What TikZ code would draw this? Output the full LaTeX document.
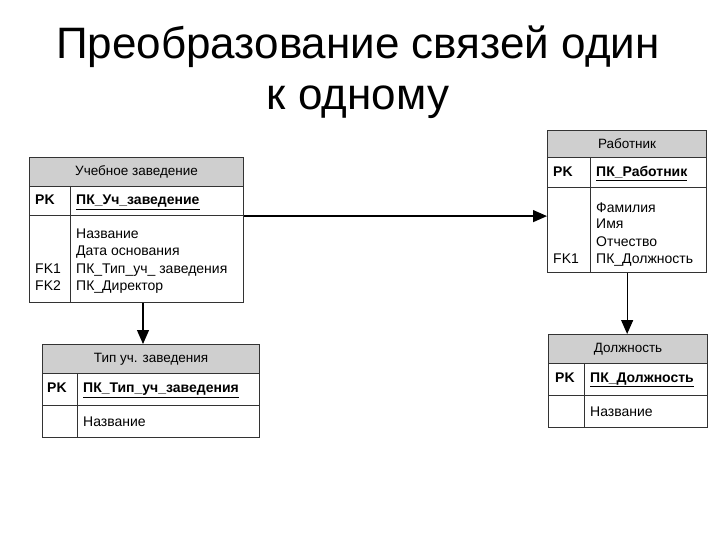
\documentclass[tikz,border=0pt]{standalone}
\usepackage{fontspec}
\setmainfont{Liberation Sans}
\usetikzlibrary{arrows.meta}
\definecolor{hdrgray}{HTML}{CFCFCF}
\definecolor{linegray}{HTML}{333333}
\tikzset{
  tbl/.style={draw=linegray, line width=1.3pt, anchor=north west, inner sep=0pt},
  hdr/.style={draw=linegray, line width=1.1pt, fill=hdrgray, anchor=north west, inner sep=0pt, font=\fontsize{13.5}{15}\selectfont},
  row/.style={draw=linegray, line width=1.1pt, anchor=north west, inner sep=0pt},
  txt/.style={anchor=base west, inner sep=0pt, font=\fontsize{14}{16}\selectfont},
  pk/.style={txt, font=\fontsize{14}{16}\selectfont\bfseries},
  divider/.style={draw=linegray, line width=1pt},
  rel/.style={draw=black, line width=1.2pt, -{Triangle[length=14pt,width=12pt]}},
  title/.style={font=\fontsize{44}{52}\selectfont, align=center, inner sep=0pt, anchor=base}
}
\begin{document}
\begin{tikzpicture}[x=1pt,y=-1pt]
\useasboundingbox (0,0) rectangle (720,540);
% title
\node[title] (t1) at (358,59) {Преобразование связей один};
\node[title] (t2) at (358,110) {к одному};

% ---- Учебное заведение
\node[tbl, minimum width=214pt, minimum height=145pt] (uz) at (29,157) {};
\node[hdr, minimum width=214pt, minimum height=29pt] (uzh) at (29,157) {Учебное заведение};
\node[row, minimum width=214pt, minimum height=29pt] (uzpk) at (29,186) {};
\draw[divider] (70,186) -- (70,302);
\node[pk] (uzpkl) at (35,205) {PK};
\node[pk] (uzpkn) at (76,205) {\underline{ПК\_Уч\_заведение}};
\node[txt] (uza1) at (76,238) {Название};
\node[txt] (uza2) at (76,255.5) {Дата основания};
\node[txt] (uza3) at (76,273) {ПК\_Тип\_уч\_ заведения};
\node[txt] (uza4) at (76,290.5) {ПК\_Директор};
\node[txt] (uzf1) at (35,273) {FK1};
\node[txt] (uzf2) at (35,290.5) {FK2};

% ---- Тип уч. заведения
\node[tbl, minimum width=217pt, minimum height=93pt] (tip) at (42,344) {};
\node[hdr, minimum width=217pt, minimum height=29pt] (tiph) at (42,344) {Тип уч. заведения};
\node[row, minimum width=217pt, minimum height=32pt] (tippk) at (42,373) {};
\draw[divider] (77,373) -- (77,437);
\node[pk] (tippkl) at (47,392.5) {PK};
\node[pk] (tippkn) at (83,392.5) {\underline{ПК\_Тип\_уч\_заведения}};
\node[txt] (tipa1) at (83,426) {Название};

% ---- Работник
\node[tbl, minimum width=159pt, minimum height=142pt] (rab) at (547,130) {};
\node[hdr, minimum width=159pt, minimum height=27pt] (rabh) at (547,130) {Работник};
\node[row, minimum width=159pt, minimum height=30pt] (rabpk) at (547,157) {};
\draw[divider] (590,157) -- (590,272);
\node[pk] (rabpkl) at (553,177) {PK};
\node[pk] (rabpkn) at (596,177) {\underline{ПК\_Работник}};
\node[txt] (raba1) at (596,212) {Фамилия};
\node[txt] (raba2) at (596,229) {Имя};
\node[txt] (raba3) at (596,246) {Отчество};
\node[txt] (raba4) at (596,263) {ПК\_Должность};
\node[txt] (rabf1) at (553,263) {FK1};

% ---- Должность
\node[tbl, minimum width=159pt, minimum height=93pt] (dol) at (548,334) {};
\node[hdr, minimum width=159pt, minimum height=29pt] (dolh) at (548,334) {Должность};
\node[row, minimum width=159pt, minimum height=32pt] (dolpk) at (548,363) {};
\draw[divider] (584,363) -- (584,427);
\node[pk] (dolpkl) at (555,382) {PK};
\node[pk] (dolpkn) at (590,382) {\underline{ПК\_Должность}};
\node[txt] (dola1) at (590,416) {Название};

% ---- connectors
\coordinate (ax) at (143,0);
\draw[rel] (uzpk.south east) -- (rab.west |- uzpk.south east);
\draw[rel] (uz.south -| ax) -- (tip.north -| ax);
\draw[rel] (rab.south) -- (dol.north -| rab.south);
\end{tikzpicture}
\end{document}
